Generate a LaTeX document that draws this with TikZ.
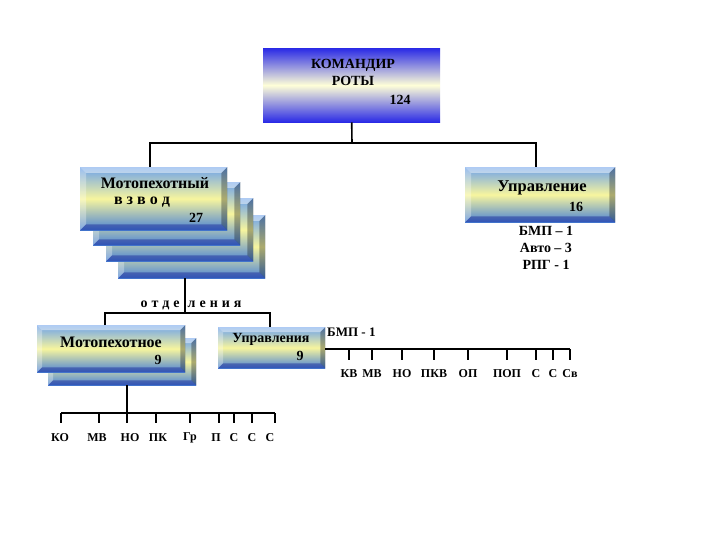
\documentclass[tikz,border=0pt]{standalone}
\usepackage{fontspec}
\setmainfont{Liberation Serif}
\usetikzlibrary{calc}
\definecolor{bA}{HTML}{6FA3EA}
\definecolor{bB}{HTML}{4A82D6}
\definecolor{yA}{HTML}{F7F59E}
\definecolor{dA}{HTML}{2A2AE6}
\definecolor{yB}{HTML}{FFFFD8}
\tikzset{
  bx/.style={draw=none, rectangle, inner sep=0pt, top color=bA, bottom color=bB, middle color=yA, anchor=north west},
  cmdbox/.style={draw=none, rectangle, inner sep=0pt, top color=dA, bottom color=dA, middle color=yB, anchor=north west},
  conn/.style={line width=1.6pt, black},
  lbl/.style={font=\bfseries\fontsize{12}{14}\selectfont, inner sep=0pt},
  midtxt/.style={font=\bfseries\fontsize{14}{16}\selectfont, inner sep=0pt},
  big/.style={font=\bfseries\fontsize{16}{18}\selectfont, inner sep=0pt},
}
\newcommand\bevb[2]{%
  \fill[white,opacity=0.45] (#1.north west) -- (#1.north east) -- ($(#1.north east)+(-#2,-#2)$) -- ($(#1.north west)+(#2,-#2)$) -- cycle;
  \fill[white,opacity=0.3] (#1.north west) -- ($(#1.north west)+(#2,-#2)$) -- ($(#1.south west)+(#2,#2)$) -- (#1.south west) -- cycle;
  \fill[black,opacity=0.3] (#1.north east) -- ($(#1.north east)+(-#2,-#2)$) -- ($(#1.south east)+(-#2,#2)$) -- (#1.south east) -- cycle;
  \fill[blue!50!black,opacity=0.35] (#1.south west) -- ($(#1.south west)+(#2,#2)$) -- ($(#1.south east)+(-#2,#2)$) -- (#1.south east) -- cycle;
}
\begin{document}
\begin{tikzpicture}[x=1pt,y=1pt]
\useasboundingbox (0,0) rectangle (720,-540);
\fill[white] (0,0) rectangle (720,-540);
% commander
\node[cmdbox, minimum width=177pt, minimum height=74pt] (cmd) at (263,-48) {};
\node[midtxt] (c1) at (353,-65) {КОМАНДИР};
\node[midtxt] (c2) at (353,-81) {РОТЫ};
\node[midtxt] (c3) at (400,-100) {124};
% platoon stack
\node[bx, minimum width=147pt, minimum height=63pt] (vz3) at (118,-215) {}; \bevb{vz3}{6}
\node[bx, minimum width=147pt, minimum height=63pt] (vz2) at (106,-198) {}; \bevb{vz2}{6}
\node[bx, minimum width=147pt, minimum height=63pt] (vz1) at (93,-182) {}; \bevb{vz1}{6}
\node[bx, minimum width=147pt, minimum height=63pt] (vz) at (80,-167) {}; \bevb{vz}{6}
\node[big] (v1) at (155,-183) {Мотопехотный};
\node[big] (v2) at (142,-202) {в з в о д};
\node[midtxt] (v3) at (196,-218) {27};
% control
\node[bx, minimum width=150pt, minimum height=55pt] (upr) at (465,-167) {}; \bevb{upr}{6}
\node[big,font=\bfseries\fontsize{16.5}{18}\selectfont] (u1) at (542,-188) {Управление};
\node[midtxt] (u2) at (576,-207) {16};
\node[midtxt] (u3) at (546,-231) {БМП – 1};
\node[midtxt] (u4) at (546,-248) {Авто – 3};
\node[midtxt] (u5) at (546,-265) {РПГ - 1};
% connectors top
\coordinate (j1) at (352,-143);
\draw[conn] (cmd.south) -- (j1);
\draw[conn] (vz.north -| 150,0) |- (j1) -| (upr.north -| 536,0);
% squads
\node[bx, minimum width=148pt, minimum height=47pt] (mpb) at (48,-338) {}; \bevb{mpb}{5}
\node[bx, minimum width=148pt, minimum height=47pt] (mp) at (37,-325) {}; \bevb{mp}{5}
\node[big] (m1) at (111,-342) {Мотопехотное};
\node[midtxt] (m2) at (158,-360) {9};
\node[bx, minimum width=107pt, minimum height=41pt] (upr2) at (218,-327) {}; \bevb{upr2}{5}
\node[midtxt] (w1) at (271,-339) {Управления};
\node[midtxt] (w2) at (300,-356) {9};
\node[midtxt] (otd) at (191,-305) {о\hspace{4pt}т\hspace{4pt}д\hspace{4pt}е\hspace{8pt}л\hspace{4pt}е\hspace{4pt}н\hspace{4pt}и\hspace{4pt}я};
\coordinate (j2) at (185,-313);
\draw[conn] (vz3.south -| 185,0) -- (j2);
\draw[conn] (mp.north -| 105,0) |- (j2) -| (upr2.north -| 270,0);
% right row
\node[midtxt, font=\bfseries\fontsize{13}{15}\selectfont, anchor=west] (bmp) at (327,-332) {БМП - 1};
\coordinate (r0) at (570,-349);
\draw[conn] (upr2.east |- 0,-349) -- (r0);
\foreach \x/\t/\n in {349/КВ/1,372/МВ/2,402/НО/3,434/ПКВ/4,468/ОП/5,507/ПОП/6,536/С/7,553/С/8,570/Св/9}{
  \coordinate (rt\n) at (\x,-349);
  \draw[conn] (rt\n) -- ++(0,-11);
  \node[lbl] (rl\n) at (\x,-374) {\t};
}
% bottom row
\coordinate (b0) at (127,-413);
\draw[conn] (mpb.south -| 127,0) -- (b0);
\draw[conn] (61,-413) coordinate (bL) -- (275,-413) coordinate (bR);
\foreach \x/\lx/\t/\n in {61/60/КО/1,99/97/МВ/2,127/130/НО/3,156/158/ПК/4,190/190/Гр/5,219/216/П/6,234/234/С/7,252/252/С/8,275/270/С/9}{
  \coordinate (bt\n) at (\x,-413);
  \draw[conn] (bt\n) -- ++(0,-10);
  \node[lbl] (bl\n) at (\lx,-438) {\t};
}
\end{tikzpicture}
\end{document}
